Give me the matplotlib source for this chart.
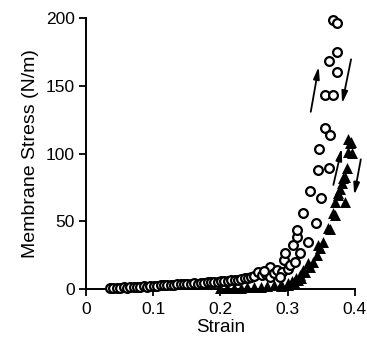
import matplotlib
matplotlib.use("Agg")
import matplotlib.pyplot as plt

# Open circles (strain, stress)
circ_strain = [0.036, 0.041, 0.046, 0.051, 0.056, 0.061, 0.066, 0.071, 0.076, 0.081,
               0.086, 0.091, 0.096, 0.101, 0.106, 0.111, 0.116, 0.121, 0.126, 0.131,
               0.136, 0.141, 0.146, 0.151, 0.156, 0.161, 0.166, 0.171, 0.176, 0.181,
               0.186, 0.191, 0.196, 0.201, 0.206, 0.211, 0.216, 0.221, 0.226, 0.231,
               0.236, 0.241, 0.246, 0.250, 0.256, 0.262, 0.268, 0.274, 0.274, 0.280,
               0.284, 0.291, 0.294, 0.301, 0.304, 0.311, 0.3135, 0.318, 0.3076, 0.3135,
               0.331, 0.3234, 0.342, 0.349, 0.333, 0.3457, 0.3616, 0.347, 0.3557, 0.363,
               0.356, 0.367, 0.374, 0.3616, 0.373, 0.3676, 0.3735, 0.296, 0.288, 0.265]
circ_stress = [0.5, 0.8, 0.7, 1.0, 1.2, 1.0, 1.5, 1.6, 1.4, 1.8,
               2.0, 1.8, 2.2, 2.4, 2.2, 2.8, 2.6, 3.0, 3.2, 3.0,
               3.5, 3.4, 3.8, 3.6, 4.0, 4.2, 4.0, 4.6, 4.4, 5.0,
               5.0, 5.4, 5.2, 5.8, 6.0, 6.2, 6.4, 7.0, 7.0, 7.6,
               8.0, 8.4, 9.0, 9.5, 12.8, 10.0, 11.0, 16.5, 9.0, 12.0,
               14.0, 12.8, 21.4, 15.0, 18.0, 20.0, 38.6, 26.3, 32.5, 43.5,
               35.0, 56.3, 48.5, 67.0, 72.0, 88.0, 89.5, 103.0, 119.0, 114.0,
               143.0, 143.0, 160.0, 168.5, 175.0, 198.5, 196.0, 26.3, 9.0, 13.5]

# Filled triangles (strain, stress)
tri_strain = [0.200, 0.210, 0.220, 0.230, 0.240, 0.250, 0.260, 0.270, 0.280, 0.290,
              0.300, 0.306, 0.312, 0.318, 0.323, 0.326, 0.331, 0.333, 0.338, 0.343,
              0.348, 0.3457, 0.353, 0.360, 0.363, 0.368, 0.370, 0.375, 0.378, 0.381,
              0.383, 0.385, 0.388, 0.390, 0.390, 0.393, 0.394, 0.395, 0.385, 0.375,
              0.370, 0.310, 0.315, 0.320, 0.290, 0.300]
tri_stress = [0.5, 0.6, 0.8, 1.0, 1.2, 1.5, 1.8, 2.2, 2.8, 3.5,
              4.5, 6.0, 8.0, 10.3, 14.0, 12.8, 19.0, 16.5, 20.0, 25.0,
              30.0, 32.5, 35.0, 44.8, 44.0, 56.0, 54.6, 69.4, 73.6, 78.5,
              81.7, 83.0, 89.0, 101.0, 111.0, 107.7, 108.7, 100.6, 64.4, 70.6,
              64.4, 5.0, 6.5, 8.0, 2.0, 3.0]

# Arrows: (start strain, start stress, end strain, end stress)
arrows = [
    (0.3344, 130.8, 0.3462, 164.0),
    (0.3943, 169.5, 0.3810, 137.0),
    (0.3680, 76.8, 0.3805, 103.8),
    (0.4088, 95.7, 0.3990, 69.4),
]

plt.rcParams['font.family'] = ['Liberation Sans', 'DejaVu Sans']

fig = plt.figure(figsize=(3.67, 3.40), dpi=100)
ax = fig.add_axes([0.234, 0.15, 0.733, 0.797])

ax.scatter(tri_strain, tri_stress, marker='^', s=62, color='black', zorder=3,
           clip_on=False, linewidths=0)
ax.scatter(circ_strain, circ_stress, marker='o', s=40, facecolors='white',
           edgecolors='black', linewidths=1.6, zorder=4, clip_on=False)

for x0, y0, x1, y1 in arrows:
    ax.annotate('', xy=(x1, y1), xytext=(x0, y0), annotation_clip=False,
                arrowprops=dict(arrowstyle='-|>,head_length=0.7,head_width=0.18',
                                color='black', lw=1.3, shrinkA=0, shrinkB=0))

ax.set_xlim(0, 0.4)
ax.set_ylim(0, 200)
ax.set_xticks([0, 0.1, 0.2, 0.3, 0.4])
ax.set_xticklabels(['0', '0.1', '0.2', '0.3', '0.4'])
ax.set_yticks([0, 50, 100, 150, 200])
for s in ['top', 'right']:
    ax.spines[s].set_visible(False)
for s in ['left', 'bottom']:
    ax.spines[s].set_linewidth(1.4)
ax.tick_params(direction='out', length=5, width=1.3, labelsize=12.5)
ax.tick_params(axis='x', pad=4)
ax.tick_params(axis='y', pad=3)
ax.set_xlabel('Strain', fontsize=13.5, labelpad=2)
ax.set_ylabel('Membrane Stress (N/m)', fontsize=14, labelpad=5)

fig.savefig('out.png', dpi=100)
